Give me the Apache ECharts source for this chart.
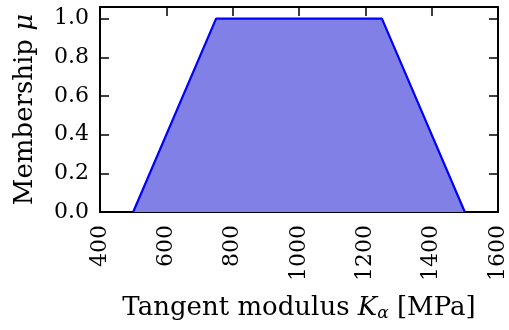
<!DOCTYPE html>
<html>
<head>
<meta charset="utf-8">
<script src="https://cdn.jsdelivr.net/npm/echarts@6/dist/echarts.min.js"></script>
<style>
  html, body { margin: 0; padding: 0; background: #ffffff; }
  #chart { width: 509px; height: 330px; }
</style>
</head>
<body>
<div id="chart"></div>
<script>
// Trapezoidal membership function of the tangent modulus
const modulusPoints = [500, 750, 1250, 1500];   // MPa
const membership = [0, 1, 1, 0];
const xTicks = [400, 600, 800, 1000, 1200, 1400, 1600];
const yTicks = [0, 0.2, 0.4, 0.6, 0.8, 1.0];

const FONT = 'DejaVu Serif';
const seriesData = modulusPoints.map((x, i) => [x, membership[i]]);

const tickStyle = { show: true, inside: true, length: 9, lineStyle: { color: '#000', width: 1.5 } };
const lineStyle = { show: true, onZero: false, lineStyle: { color: '#000', width: 2 } };

const chart = echarts.init(document.getElementById('chart'), null, { renderer: 'canvas' });
chart.setOption({
  animation: false,
  backgroundColor: '#ffffff',
  grid: { left: 100, right: 8, top: 7, bottom: 118, containLabel: false },
  xAxis: [
    {
      type: 'value', position: 'bottom', min: 400, max: 1600, interval: 200,
      axisLine: lineStyle,
      axisTick: Object.assign({ customValues: xTicks }, tickStyle),
      axisLabel: {
        customValues: xTicks, rotate: 90, margin: 13,
        formatter: v => String(v),
        fontFamily: FONT, fontSize: 22, color: '#000'
      },
      splitLine: { show: false },
      name: '{n|Tangent modulus }{k|K}{s|α}{n| [MPa]}',
      nameLocation: 'middle', nameGap: 82,
      nameTextStyle: {
        rich: {
          n: { fontFamily: FONT, fontSize: 26, color: '#000' },
          k: { fontFamily: FONT, fontSize: 26, fontStyle: 'italic', color: '#000' },
          s: { fontFamily: FONT, fontSize: 17, fontStyle: 'italic', color: '#000', padding: [11, 0, 0, 0] }
        }
      }
    },
    {
      type: 'value', position: 'top', min: 400, max: 1600, interval: 200,
      axisLine: lineStyle,
      axisTick: Object.assign({ customValues: xTicks }, tickStyle),
      axisLabel: { show: false },
      splitLine: { show: false }
    }
  ],
  yAxis: [
    {
      type: 'value', position: 'left', min: 0, max: 1.06,
      axisLine: lineStyle,
      axisTick: Object.assign({ customValues: yTicks }, tickStyle),
      axisLabel: {
        customValues: yTicks, margin: 11,
        formatter: v => v.toFixed(1),
        fontFamily: FONT, fontSize: 22, color: '#000'
      },
      splitLine: { show: false },
      name: '{n|Membership }{m|μ}',
      nameLocation: 'middle', nameGap: 62, nameRotate: 90,
      nameTextStyle: {
        rich: {
          n: { fontFamily: FONT, fontSize: 26, color: '#000' },
          m: { fontFamily: FONT, fontSize: 26, fontStyle: 'italic', color: '#000' }
        }
      }
    },
    {
      type: 'value', position: 'right', min: 0, max: 1.06,
      axisLine: lineStyle,
      axisTick: Object.assign({ customValues: yTicks }, tickStyle),
      axisLabel: { show: false },
      splitLine: { show: false }
    }
  ],
  series: [
    {
      type: 'line',
      xAxisIndex: 0, yAxisIndex: 0,
      data: seriesData,
      symbol: 'none',
      lineStyle: { color: '#0000ff', width: 2.2 },
      areaStyle: { color: '#8080e6', opacity: 1, origin: 'start' },
      z: 1
    }
  ]
});
</script>
</body>
</html>
